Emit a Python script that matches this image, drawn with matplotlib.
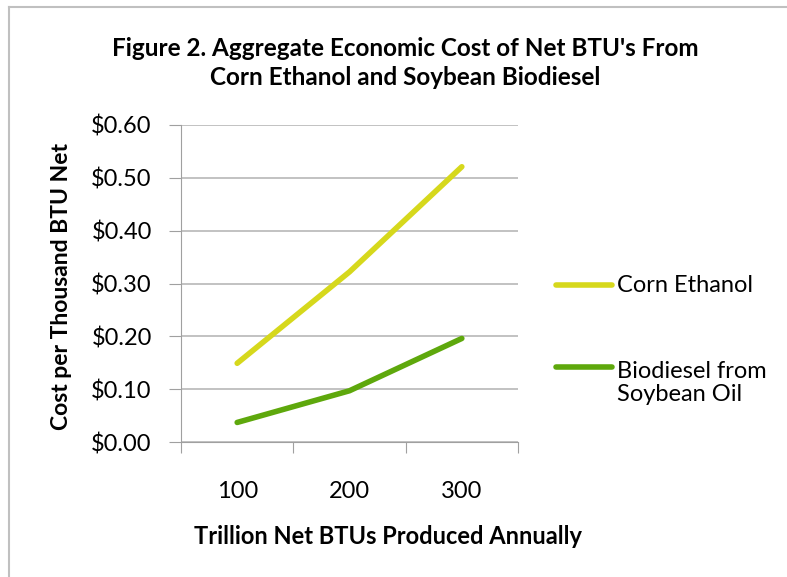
import matplotlib.pyplot as plt
from matplotlib.lines import Line2D

plt.rcParams['font.family'] = ['Lato', 'DejaVu Sans']

categories = ['100', '200', '300']
corn_ethanol = [0.149, 0.322, 0.521]
biodiesel = [0.037, 0.097, 0.196]
yticks = [0.0, 0.1, 0.2, 0.3, 0.4, 0.5, 0.6]

W, H = 787, 577
fig = plt.figure(figsize=(W / 100, H / 100), dpi=100)
ax = fig.add_axes([181 / W, 1 - 442 / H, (518 - 181) / W, (442 - 125) / H])

x = range(1, len(categories) + 1)
ax.plot(x, corn_ethanol, color='#d6d81c', lw=4, solid_capstyle='round')
ax.plot(x, biodiesel, color='#5ea80c', lw=4, solid_capstyle='round')

ax.set_xlim(0.5, 3.5)
ax.set_ylim(0, 0.6)
ax.set_yticks(yticks)
ax.set_yticklabels(['$%.2f' % v for v in yticks], fontsize=17)
ax.set_xticks([0.5, 1.5, 2.5, 3.5])
ax.set_xticklabels([])
ax.set_xticks(list(x), minor=True)
ax.set_xticklabels(categories, minor=True, fontsize=17)
ax.tick_params(axis='x', which='minor', length=0, pad=28)
ax.tick_params(axis='x', which='major', length=8, color='#a0a0a0')
ax.tick_params(axis='y', length=9, color='#a0a0a0', pad=12)
ax.grid(axis='y', color='#b8b8b8', lw=1.2)
ax.set_axisbelow(True)
for s in ['top', 'right']:
    ax.spines[s].set_visible(False)
for s in ['left', 'bottom']:
    ax.spines[s].set_color('#a0a0a0')

fig.text(405 / W, 1 - 63 / H, "Figure 2. Aggregate Economic Cost of Net BTU's From\nCorn Ethanol and Soybean Biodiesel",
         ha='center', va='center', fontsize=17.5, fontweight='bold', linespacing=1.3)
fig.text(62 / W, 1 - 287 / H, 'Cost per Thousand BTU Net', rotation=90,
         ha='center', va='center', fontsize=16.5, fontweight='bold')
fig.text(388 / W, 1 - 537 / H, 'Trillion Net BTUs Produced Annually',
         ha='center', va='center', fontsize=17, fontweight='bold')

# legend
fig.add_artist(Line2D([556 / W, 612 / W], [1 - 285 / H] * 2, color='#d6d81c', lw=4, solid_capstyle='round'))
fig.text(617 / W, 1 - 285 / H, 'Corn Ethanol', ha='left', va='center', fontsize=17)
fig.add_artist(Line2D([556 / W, 612 / W], [1 - 367 / H] * 2, color='#5ea80c', lw=4, solid_capstyle='round'))
fig.text(617 / W, 1 - 383 / H, 'Biodiesel from\nSoybean Oil', ha='left', va='center', fontsize=17, linespacing=1.15)

# chart border
fig.add_artist(Line2D([9 / W, 1], [1 - 7 / H] * 2, color='#c0c0c0', lw=1.5))
fig.add_artist(Line2D([9 / W] * 2, [0, 1 - 7 / H], color='#c0c0c0', lw=1.5))

fig.savefig('out.png', dpi=100)
